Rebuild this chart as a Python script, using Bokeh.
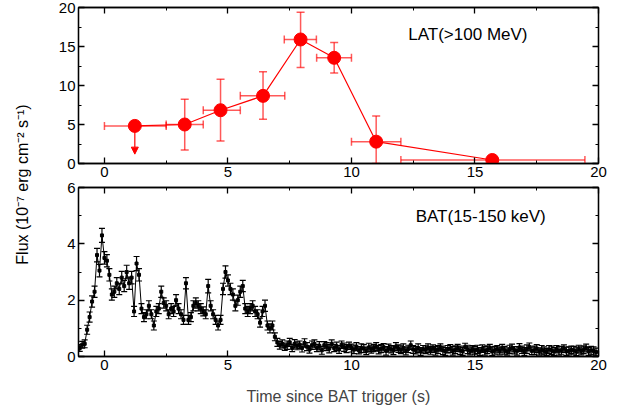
import numpy as np
from bokeh.plotting import figure
from bokeh.layouts import row, column
from bokeh.models import (ColumnDataSource, Whisker, TeeHead, Arrow, NormalHead,
                          LinearAxis, Range1d, FixedTicker, Label)
from bokeh.embed import file_html
from bokeh.resources import INLINE
from bokeh.core.properties import value

# ---------------- LAT (>100 MeV) ----------------
lat_t = [1.23, 3.25, 4.7, 6.42, 7.94, 9.3, 11.0, 15.7]
lat_flux = [4.82, 5.0, 6.83, 8.67, 15.9, 13.55, 2.8, 0.45]
lat_t_lo = [0.0, 2.5, 4.0, 5.5, 7.28, 8.59, 10.0, 12.0]
lat_t_hi = [2.5, 4.0, 5.5, 7.3, 8.58, 10.0, 12.0, 19.45]
# vertical error bars (points 2..7)
lat_yerr_t = [3.25, 4.7, 6.42, 7.94, 9.3, 11.0]
lat_yerr_lo = [1.74, 2.9, 5.68, 12.3, 11.6, 0.0]
lat_yerr_hi = [8.24, 10.8, 11.75, 19.4, 15.5, 6.1]
# upper limit of the first point
ul_t = [1.23]
ul_from = [4.82]
ul_to = [1.2]

# ---------------- BAT (15-150 keV) ----------------
bat_t0 = -1.0
bat_dt = 0.1
bat_flux = [
    0.30, 0.42, 0.45, 0.95, 1.40, 1.95, 2.30, 3.60, 3.05, 4.30,
    3.50, 3.40, 2.90, 2.20, 2.30, 2.60, 2.40, 2.80, 2.50, 3.00,
    2.60, 2.80, 1.60, 3.30, 2.90, 1.70, 1.40, 1.50, 1.80, 1.50,
    1.10, 1.60, 1.70, 2.30, 1.90, 1.80, 1.50, 1.70, 1.60, 2.00,
    1.70, 1.50, 1.30, 2.60, 1.30, 1.40, 1.80, 1.90, 1.80, 1.70,
    1.60, 1.50, 2.50, 1.80, 1.50, 1.30, 1.10, 1.30, 2.40, 3.00,
    2.70, 2.40, 2.20, 1.80, 2.00, 2.30, 2.50, 1.70, 1.60, 1.70,
    1.80, 1.60, 1.50, 1.20, 1.60, 1.80, 1.10, 1.00, 1.10, 0.70,
    0.50, 0.40,
    0.45, 0.35, 0.40, 0.50, 0.30, 0.45, 0.38, 0.42, 0.30, 0.48,
    0.35, 0.25, 0.40, 0.45, 0.30, 0.38, 0.22, 0.40, 0.35, 0.28,
    0.45, 0.30, 0.36, 0.25, 0.42, 0.33, 0.28, 0.38,
    0.30, 0.25, 0.35, 0.22, 0.30, 0.28, 0.20, 0.32, 0.26, 0.30,
    0.35, 0.24, 0.28, 0.33, 0.20, 0.30, 0.26, 0.22, 0.35, 0.28,
    0.24, 0.30, 0.20, 0.27, 0.40, 0.25, 0.22, 0.30, 0.18, 0.26,
    0.24, 0.30, 0.22, 0.28, 0.20, 0.25, 0.32, 0.22, 0.18, 0.26,
    0.28, 0.20, 0.24, 0.30, 0.22, 0.18, 0.34, 0.25, 0.20, 0.26,
    0.22, 0.25, 0.18, 0.28, 0.20, 0.24, 0.30, 0.18, 0.22, 0.26,
    0.20, 0.28, 0.22, 0.18, 0.25, 0.30, 0.22, 0.20, 0.32, 0.24,
    0.18, 0.26, 0.34, 0.20, 0.22, 0.28, 0.18, 0.24, 0.20, 0.16,
    0.25, 0.22, 0.18, 0.26, 0.20, 0.22, 0.28, 0.18, 0.20, 0.24,
    0.22, 0.18, 0.26, 0.20, 0.24, 0.30, 0.18, 0.22, 0.20, 0.16,
]
bat_err = [
    0.12, 0.12, 0.14, 0.16, 0.18, 0.20, 0.20, 0.24, 0.22, 0.25,
    0.22, 0.22, 0.22, 0.20, 0.20, 0.20, 0.20, 0.22, 0.20, 0.24,
    0.22, 0.22, 0.18, 0.25, 0.22, 0.18, 0.16, 0.16, 0.18, 0.16,
    0.16, 0.18, 0.18, 0.20, 0.18, 0.18, 0.16, 0.18, 0.18, 0.20,
    0.18, 0.16, 0.16, 0.20, 0.16, 0.16, 0.18, 0.18, 0.18, 0.18,
    0.16, 0.16, 0.24, 0.18, 0.16, 0.16, 0.16, 0.16, 0.20, 0.22,
    0.20, 0.20, 0.20, 0.18, 0.18, 0.20, 0.20, 0.18, 0.18, 0.18,
    0.18, 0.18, 0.16, 0.16, 0.18, 0.20, 0.16, 0.16, 0.16, 0.14,
    0.14, 0.14,
] + [0.14, 0.13, 0.15, 0.14, 0.13, 0.15, 0.14, 0.13, 0.14, 0.15] * 12 + [0.14] * 8

bat_t = [round(bat_t0 + bat_dt * i, 2) for i in range(len(bat_flux))]

x_major = [0, 5, 10, 15, 20]
x_minor = [2.5, 7.5, 12.5, 17.5]
top_y_major = [0, 5, 10, 15, 20]
top_y_minor = [2.5, 7.5, 12.5, 17.5]
bot_y_major = [0, 2, 4, 6]
bot_y_minor = [1, 3, 5]

FONT = "Liberation Sans"
RED = "#ff0000"


def tick_style(ax):
    ax.major_tick_in = 6
    ax.major_tick_out = 0
    ax.minor_tick_in = 3
    ax.minor_tick_out = 0
    ax.axis_line_width = 1.3
    ax.major_tick_line_width = 1.3
    ax.minor_tick_line_width = 1.0


def style(p, ymaj, ymin):
    p.outline_line_color = "black"
    p.outline_line_width = 1.3
    p.xgrid.visible = False
    p.ygrid.visible = False
    for ax in p.below + p.left:
        tick_style(ax)
        ax.major_label_text_font = FONT
        ax.major_label_text_font_size = "15px"
        ax.major_label_text_color = "black"
        ax.major_label_standoff = 3
    p.below[0].ticker = FixedTicker(ticks=x_major, minor_ticks=x_minor)
    p.left[0].ticker = FixedTicker(ticks=ymaj, minor_ticks=ymin)
    # mirrored axes without labels
    top = LinearAxis(ticker=FixedTicker(ticks=x_major, minor_ticks=x_minor))
    right = LinearAxis(ticker=FixedTicker(ticks=ymaj, minor_ticks=ymin))
    for ax in (top, right):
        tick_style(ax)
        ax.major_label_text_color = None
        ax.major_label_text_font_size = "1px"
        ax.major_label_standoff = 0
    p.add_layout(top, "above")
    p.add_layout(right, "right")


# ---------- label column ----------
lab = figure(width=44, height=411, x_range=Range1d(0, 1), y_range=Range1d(0, 411),
             output_backend="svg", toolbar_location=None,
             min_border=0, outline_line_color=None)
lab.axis.visible = False
lab.grid.visible = False
lab.text(x=[0.5], y=[411 - 184], text=["Flux (10\u207b\u2077 erg cm\u207b\u00b2 s\u207b\u00b9)"],
         angle=np.pi / 2, text_align="center", text_baseline="middle",
         text_font=value(FONT), text_font_size="16px", text_color="black")

# ---------- top panel (LAT) ----------
p1 = figure(width=579, height=180, x_range=Range1d(-1.05, 20), y_range=Range1d(0, 20),
            output_backend="svg", toolbar_location=None,
            min_border_left=34, min_border_right=25, min_border_top=7, min_border_bottom=17)
style(p1, top_y_major, top_y_minor)

xs = ColumnDataSource(dict(t=lat_t, f=lat_flux, lo=lat_t_lo, hi=lat_t_hi))
ys = ColumnDataSource(dict(t=lat_yerr_t, lo=lat_yerr_lo, hi=lat_yerr_hi))
for src, base, dim in ((xs, "f", "width"), (ys, "t", "height")):
    p1.add_layout(Whisker(source=src, base=base, lower="lo", upper="hi", dimension=dim,
                          line_color=RED, line_alpha=0.65, line_width=1.5,
                          upper_head=TeeHead(size=8, line_color=RED, line_alpha=0.65, line_width=1.5),
                          lower_head=TeeHead(size=8, line_color=RED, line_alpha=0.65, line_width=1.5)))
p1.line(lat_t, lat_flux, line_color=RED, line_width=1.2)
p1.scatter(lat_t, lat_flux, size=13, fill_color=RED, line_color=RED, marker="circle")
p1.add_layout(Arrow(x_start=ul_t[0], y_start=ul_from[0], x_end=ul_t[0], y_end=ul_to[0],
                    line_color=RED, line_width=1.2,
                    end=NormalHead(size=7, fill_color=RED, line_color=RED)))
p1.add_layout(Label(x=12.3, y=16.5, text="LAT(>100 MeV)", text_font=FONT,
                    text_font_size="17px", text_baseline="middle", text_color="black"))

# ---------- bottom panel (BAT) ----------
p2 = figure(width=579, height=231, x_range=Range1d(-1.05, 20), y_range=Range1d(0, 6),
            output_backend="svg", toolbar_location=None,
            min_border_left=34, min_border_right=25, min_border_top=7, min_border_bottom=55)
style(p2, bot_y_major, bot_y_minor)
xb = p2.below[0]
xb.axis_label = "Time since BAT trigger (s)"
xb.axis_label_text_font = FONT
xb.axis_label_text_font_style = "normal"
xb.axis_label_text_font_size = "16px"
xb.axis_label_standoff = 15

bs = ColumnDataSource(dict(t=bat_t, f=bat_flux,
                           lo=[a - b for a, b in zip(bat_flux, bat_err)],
                           hi=[a + b for a, b in zip(bat_flux, bat_err)]))
p2.add_layout(Whisker(source=bs, base="t", lower="lo", upper="hi", dimension="height",
                      line_color="black", line_width=1.2,
                      upper_head=TeeHead(size=6, line_color="black", line_width=1.2),
                      lower_head=TeeHead(size=6, line_color="black", line_width=1.2)))
p2.line("t", "f", source=bs, line_color="black", line_width=1)
p2.scatter("t", "f", source=bs, size=3, marker="square", fill_color="black", line_color="black")
p2.add_layout(Label(x=12.6, y=4.98, text="BAT(15-150 keV)", text_font=FONT,
                    text_font_size="17px", text_baseline="middle", text_color="black"))

layout = row(lab, column(p1, p2, spacing=0), spacing=0)
open("out.html", "w").write(file_html(layout, INLINE))
